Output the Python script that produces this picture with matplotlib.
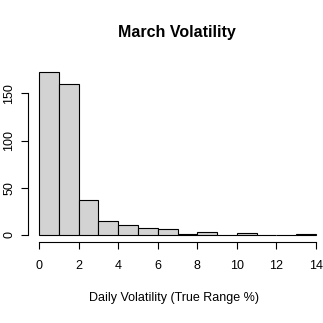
import matplotlib
matplotlib.use("Agg")
import matplotlib.pyplot as plt
import numpy as np

plt.rcParams['font.family'] = ['Liberation Sans', 'DejaVu Sans']

bin_edges = [0, 1, 2, 3, 4, 5, 6, 7, 8, 9, 10, 11, 12, 13, 14]
counts = [173, 160, 37, 15, 11, 7, 6, 1, 3, 0, 2, 0, 0, 1]
x_ticks = [0, 2, 4, 6, 8, 10, 12, 14]
y_ticks = [0, 50, 100, 150]
title = "March Volatility"
xlabel = "Daily Volatility (True Range %)"

W = H = 323
fig = plt.figure(figsize=(W / 100, H / 100), dpi=100)
left, right, top, bottom = 28, 327, 65.2, 241.5
ax = fig.add_axes([left / W, 1 - bottom / H, (right - left) / W, (bottom - top) / H])

lefts = np.array(bin_edges[:-1])
widths = np.diff(bin_edges)
ax.bar(lefts, counts, width=widths, align='edge', color='#D3D3D3',
       edgecolor='black', linewidth=0.8)

ax.set_xlim(-0.56, 14.56)
ax.set_ylim(-6.92, 179.92)

for s in ['top', 'right']:
    ax.spines[s].set_visible(False)
ax.spines['bottom'].set_bounds(x_ticks[0], x_ticks[-1])
ax.spines['left'].set_bounds(y_ticks[0], y_ticks[-1])
for s in ['bottom', 'left']:
    ax.spines[s].set_linewidth(0.8)

ax.set_xticks(x_ticks)
ax.set_yticks(y_ticks)
ax.set_yticklabels([str(v) for v in y_ticks], rotation=90, va='center')
ax.tick_params(axis='both', length=5, width=0.8, labelsize=9)
ax.tick_params(axis='x', pad=8)
ax.tick_params(axis='y', pad=4)

fig.text(176.5 / W, 1 - 32 / H, title,
         ha='center', va='center', fontsize=11.5, fontweight='bold')
fig.text(174 / W, 1 - 298 / H, xlabel, ha='center', va='center', fontsize=9)

fig.savefig('out.png', dpi=100)
